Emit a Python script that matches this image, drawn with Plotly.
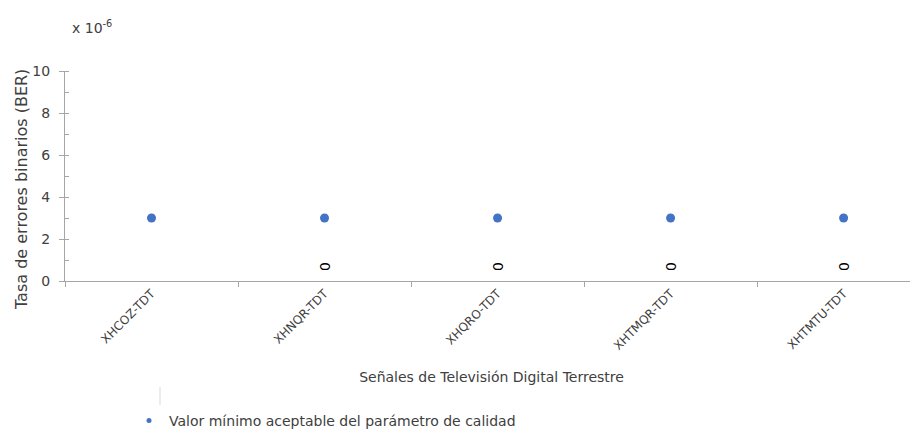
import plotly.graph_objects as go

categories = ["XHCOZ-TDT", "XHNQR-TDT", "XHQRO-TDT", "XHTMQR-TDT", "XHTMTU-TDT"]
min_valor = [3, 3, 3, 3, 3]
medido = [None, 0, 0, 0, 0]
y_ticks = [0, 2, 4, 6, 8, 10]

FONT = "DejaVu Sans"
GRAY = "#404040"
# page body has an 8px margin: figure coordinates = screen - 8
W, H = 910, 422
L, T, B = 57, 63, 149
PW, PH = W - L, H - T - B


def px(xs):
    return (xs - 8 - L) / PW


def py(ys):
    return (H - B - (ys - 8)) / PH


fig = go.Figure()

fig.add_trace(go.Scatter(
    x=categories, y=min_valor, mode="markers",
    marker=dict(color="#4472C4", size=9),
    showlegend=False, hoverinfo="x+y",
))
# legend entry with small dot
fig.add_trace(go.Scatter(
    x=[None], y=[None], mode="markers",
    marker=dict(color="#4472C4", size=5),
    name="Valor mínimo aceptable del parámetro de calidad",
))

for c, v in zip(categories, medido):
    if v is None:
        continue
    fig.add_annotation(
        x=c, y=v, text=str(v), showarrow=False, textangle=-90,
        yanchor="bottom", yshift=8, xref="x", yref="y",
        font=dict(family=FONT, size=14, color="#000000"),
    )

fig.add_annotation(
    xref="paper", yref="paper", x=px(70), y=py(27),
    xanchor="left", yanchor="middle",
    text="x 10<sup>-6</sup>", showarrow=False,
    font=dict(family=FONT, size=14, color=GRAY),
)

# y axis title (placed like the reference, slightly below the axis centre)
fig.add_annotation(
    xref="paper", yref="paper", x=px(21), y=py(190),
    xanchor="center", yanchor="middle", textangle=-90,
    text="Tasa de errores binarios (BER)", showarrow=False,
    font=dict(family=FONT, size=16, color=GRAY),
)

fig.add_shape(type="line", xref="paper", yref="paper",
              x0=px(160), x1=px(160), y0=py(387), y1=py(405),
              line=dict(color="#D9D9D9", width=1))

fig.update_layout(
    width=W, height=H,
    margin=dict(l=L, r=0, t=T, b=B, autoexpand=False),
    plot_bgcolor="white", paper_bgcolor="white",
    font=dict(family=FONT, size=12, color=GRAY),
    showlegend=True,
    legend=dict(orientation="h", x=121 / W, xref="container",
                y=1 - (421 - 8) / H, yref="container", xanchor="left", yanchor="middle",
                font=dict(family=FONT, size=14, color=GRAY),
                itemsizing="trace", itemwidth=30, bgcolor="rgba(0,0,0,0)"),
    xaxis=dict(
        range=[-0.5, 4.43], showline=True, linecolor="#A6A6A6", linewidth=1,
        ticks="outside", tickson="boundaries", ticklen=5, tickcolor="#A6A6A6",
        tickangle=-45, showgrid=False, zeroline=False, automargin=False,
        tickfont=dict(family=FONT, size=12, color=GRAY),
        title=dict(text="Señales de Televisión Digital Terrestre", standoff=20,
                   font=dict(family=FONT, size=14, color=GRAY)),
    ),
    yaxis=dict(
        range=[0, 10], tickvals=y_ticks, showline=True, linecolor="#A6A6A6",
        linewidth=1, ticks="outside", ticklen=5, tickcolor="#A6A6A6",
        showgrid=False, zeroline=False, automargin=False, ticklabelstandoff=6,
        minor=dict(dtick=1, ticks="inside", ticklen=4, tickcolor="#A6A6A6"),
        tickfont=dict(family=FONT, size=14, color=GRAY),
    ),
)

fig.write_html("out.html")
